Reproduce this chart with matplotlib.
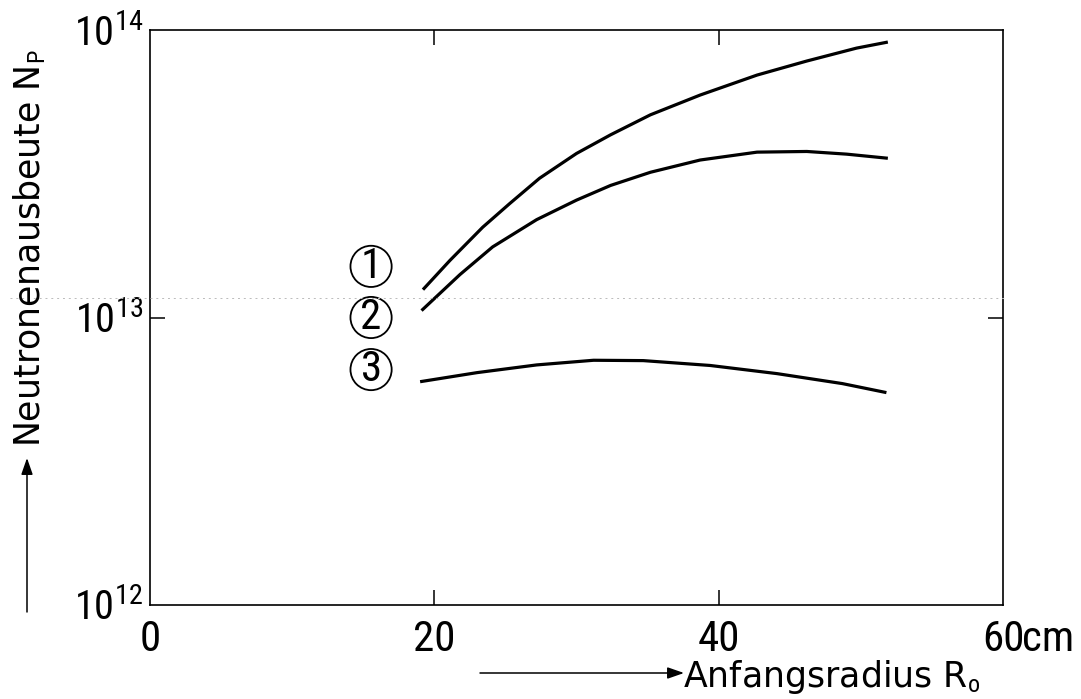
import matplotlib
matplotlib.use("Agg")
import matplotlib.pyplot as plt
from matplotlib import font_manager
from matplotlib.patches import FancyArrowPatch
from matplotlib.lines import Line2D

# ---------------- data ----------------
r1 = [19.2, 21.1, 23.4, 25.3, 27.4, 30.0, 32.4, 35.2, 38.7, 42.7, 46.2, 49.7, 51.9]
n1 = [1.25e13, 1.58e13, 2.06e13, 2.49e13, 3.05e13, 3.72e13, 4.32e13, 5.07e13,
      5.94e13, 6.97e13, 7.80e13, 8.65e13, 9.08e13]
r2 = [19.1, 21.8, 24.1, 27.2, 30.0, 32.4, 35.2, 38.7, 42.7, 46.2, 49.0, 51.9]
n2 = [1.057e13, 1.41e13, 1.76e13, 2.19e13, 2.56e13, 2.88e13, 3.20e13, 3.53e13,
      3.76e13, 3.78e13, 3.70e13, 3.58e13]
r3 = [19.0, 23.0, 27.2, 31.2, 34.7, 39.4, 44.1, 48.7, 51.8]
n3 = [5.98e12, 6.43e12, 6.84e12, 7.10e12, 7.08e12, 6.81e12, 6.38e12, 5.89e12, 5.48e12]

curve_labels = ["1", "2", "3"]
label_x = [15.55, 15.55, 15.55]
label_y = [1.506e13, 1.0e13, 6.59e12]

x_ticks = [0, 20, 40, 60]
x_ticklabels = ["0", "20", "40", "60"]
y_ticks = [1e12, 1e13, 1e14]
y_ticklabels = [r"$10^{12}$", r"$10^{13}$", r"$10^{14}$"]

xlabel_text = r"Anfangsradius R$_\mathrm{o}$"
ylabel_text = r"Neutronenausbeute N$_\mathrm{P}$"

# ---------------- fonts ----------------
avail = {f.name for f in font_manager.fontManager.ttflist}
narrow = "DejaVu Sans"
for cand in ["Liberation Sans Narrow", "DejaVu Sans Condensed", "Roboto Condensed", "Liberation Sans"]:
    if cand in avail:
        narrow = cand
        break

plt.rcParams["font.family"] = ["DejaVu Sans"]
plt.rcParams["mathtext.fontset"] = "custom"
plt.rcParams["mathtext.rm"] = narrow
plt.rcParams["mathtext.it"] = narrow
plt.rcParams["mathtext.bf"] = narrow

W, H = 1081, 699
fig = plt.figure(figsize=(W / 100, H / 100), dpi=100)
ax = fig.add_axes([150 / W, 1 - 605 / H, (1003 - 150) / W, (605 - 30) / H])

for r, n in [(r1, n1), (r2, n2), (r3, n3)]:
    ax.plot(r, n, color="black", lw=2.3, solid_capstyle="butt", solid_joinstyle="round")

ax.set_yscale("log")
ax.set_xlim(0, 60)
ax.set_ylim(1e12, 1e14)
ax.minorticks_off()
ax.set_xticks(x_ticks)
ax.set_xticklabels(x_ticklabels, fontfamily=narrow, fontsize=31)
ax.set_yticks(y_ticks)
ax.set_yticklabels(y_ticklabels, fontsize=29)
ax.tick_params(axis="both", direction="in", length=11, width=1.1, top=True, right=True)
ax.tick_params(axis="x", pad=10)
ax.tick_params(axis="y", pad=5)
for sp in ax.spines.values():
    sp.set_linewidth(1.2)

# hide corner ticks
for t in ax.xaxis.get_major_ticks():
    if t.get_loc() in (0, 60):
        t.tick1line.set_visible(False)
        t.tick2line.set_visible(False)
for t in ax.yaxis.get_major_ticks():
    if t.get_loc() in (1e12, 1e14):
        t.tick1line.set_visible(False)
        t.tick2line.set_visible(False)

ax.annotate("cm", xy=(60, 0), xycoords=("data", "axes fraction"),
            xytext=(14, -10), textcoords="offset points",
            ha="left", va="top", fontfamily=narrow, fontsize=31)

# circled curve labels
ax.scatter(label_x, label_y, s=880, facecolors="none", edgecolors="black",
           linewidths=1.3, zorder=3)
for t, x, y in zip(curve_labels, label_x, label_y):
    ax.text(x, y, t, ha="center", va="center", fontfamily=narrow, fontsize=31)

# axis labels with arrows
fig.text(683 / W, 1 - 687 / H, xlabel_text, ha="left", va="baseline", fontsize=25)
fig.add_artist(FancyArrowPatch((480 / W, 1 - 673 / H), (684 / W, 1 - 673 / H),
                               transform=fig.transFigure, arrowstyle="-|>,head_length=10,head_width=3.5",
                               color="black", lw=1.1, shrinkA=0, shrinkB=0))
fig.text(30 / W, 1 - 447 / H, ylabel_text, ha="center", va="bottom",
         rotation=90, fontsize=25)
fig.add_artist(FancyArrowPatch((27 / W, 1 - 612 / H), (27 / W, 1 - 458 / H),
                               transform=fig.transFigure, arrowstyle="-|>,head_length=10,head_width=3.5",
                               color="black", lw=1.1, shrinkA=0, shrinkB=0))

# faint scan line
fig.add_artist(Line2D([10 / W, 1005 / W], [1 - 298 / H, 1 - 298 / H],
                      transform=fig.transFigure, color="#bbbbbb", lw=0.7, ls=(0, (2, 4))))

fig.savefig("out.png", dpi=100)
